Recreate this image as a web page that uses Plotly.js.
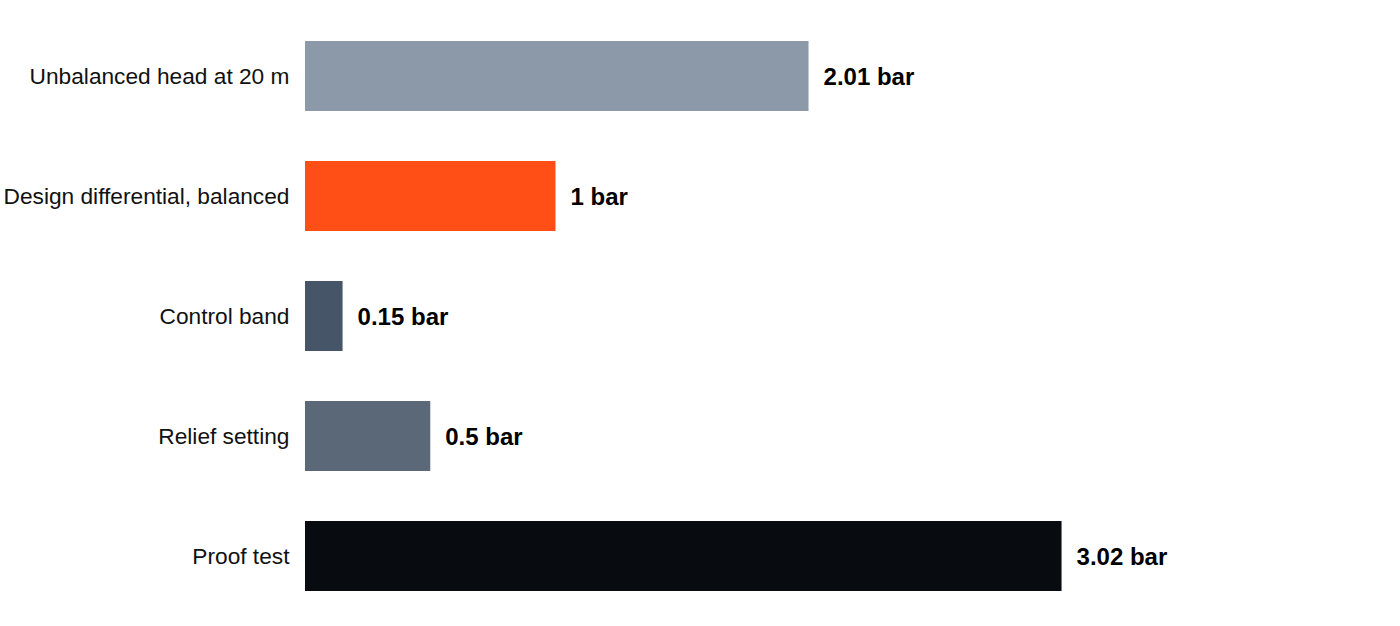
<!DOCTYPE html>
<html>
<head>
<meta charset="utf-8">
<script src="https://cdn.plot.ly/plotly-3.0.1.min.js"></script>
<style>
  html, body { margin: 0; padding: 0; background: #fff; }
  #chart { width: 1400px; height: 626px; }
</style>
</head>
<body>
<div id="chart"></div>
<script>
// pressure levels, in bar
var categories = ['Unbalanced head at 20 m', 'Design differential, balanced', 'Control band', 'Relief setting', 'Proof test'];
var values = [2.01, 1, 0.15, 0.5, 3.02];
var valueLabels = ['2.01 bar', '1 bar', '0.15 bar', '0.5 bar', '3.02 bar'];
var barColors = ['#8b99a8', '#ff4f17', '#475569', '#5b6878', '#080b10'];

var trace = {
  type: 'bar',
  orientation: 'h',
  y: categories,
  x: values,
  text: valueLabels,
  texttemplate: '\u2002%{text}',
  textposition: 'outside',
  cliponaxis: false,
  textfont: { family: 'Liberation Sans, Arial, sans-serif', size: 24, color: '#000', weight: 'bold' },
  marker: { color: barColors },
  hoverinfo: 'skip'
};

var layout = {
  width: 1400,
  height: 626,
  margin: { l: 305, r: 0, t: 16, b: 10 },
  paper_bgcolor: '#fff',
  plot_bgcolor: '#fff',
  showlegend: false,
  bargap: 0.4167,
  font: { family: 'Liberation Sans, Arial, sans-serif', size: 22.7, color: '#000' },
  xaxis: {
    range: [0, 4.371],
    showgrid: false,
    zeroline: false,
    showline: false,
    showticklabels: false,
    ticks: ''
  },
  yaxis: {
    autorange: 'reversed',
    showgrid: false,
    zeroline: false,
    showline: false,
    ticks: 'outside',
    ticklen: 10,
    tickcolor: 'rgba(0,0,0,0)',
    tickfont: { family: 'Liberation Sans, Arial, sans-serif', size: 22.7, color: '#111' }
  }
};

Plotly.newPlot('chart', [trace], layout, { displayModeBar: false, staticPlot: true });
</script>
</body>
</html>
